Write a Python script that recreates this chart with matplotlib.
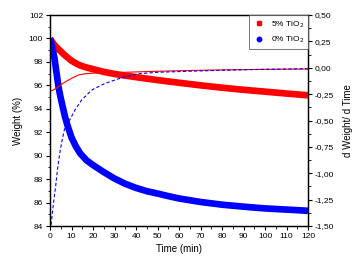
import matplotlib
matplotlib.use("Agg")
import matplotlib.pyplot as plt
from matplotlib.lines import Line2D
from matplotlib.ticker import MultipleLocator, FuncFormatter

plt.rcParams['font.family'] = ['Liberation Sans', 'DejaVu Sans']

# weight curves (left axis, %)
t_w = [0, 0.5, 1, 1.5, 2, 3, 4, 5, 6, 7, 8, 10, 12, 14, 17, 20, 25, 30, 35, 40, 45,
       50, 55, 60, 70, 80, 90, 100, 110, 120]
w_5 = [100.0, 99.85, 99.7, 99.57, 99.45, 99.25, 99.07, 98.9, 98.72, 98.55, 98.4, 98.1,
       97.88, 97.7, 97.52, 97.38, 97.15, 96.97, 96.83, 96.7, 96.57, 96.45, 96.33, 96.22,
       96.0, 95.8, 95.62, 95.46, 95.3, 95.15]
w_0 = [100.0, 99.65, 99.25, 98.85, 98.4, 97.1, 95.8, 94.9, 94.1, 93.3, 92.65, 91.55,
       90.8, 90.2, 89.6, 89.2, 88.6, 88.05, 87.6, 87.25, 86.97, 86.77, 86.55, 86.35,
       86.05, 85.82, 85.65, 85.5, 85.4, 85.3]

# derivative curves (right axis)
t_d5 = [0, 2, 3.9, 6, 8.5, 11, 13.2, 16, 19.4, 24, 28.7, 35, 45, 60.5, 80, 100, 120]
d_5 = [-0.227, -0.205, -0.18, -0.148, -0.117, -0.09, -0.069, -0.058, -0.052, -0.049,
       -0.047, -0.043, -0.036, -0.028, -0.02, -0.015, -0.012]
t_d0 = [0.5, 1.5, 2.6, 3.5, 4.5, 5.6, 6.7, 8, 9.3, 11.6, 14.7, 19.4, 25.6, 34.9, 41.9,
        50, 65, 80, 94.5, 120]
d_0 = [-1.489, -1.3, -1.127, -0.96, -0.811, -0.69, -0.585, -0.53, -0.49, -0.4, -0.306,
       -0.211, -0.148, -0.084, -0.055, -0.043, -0.033, -0.024, -0.017, -0.009]

fig = plt.figure(figsize=(3.58, 2.57), dpi=100)
ax = fig.add_axes([0.1397, 0.1206, 0.7207, 0.821])
ax2 = ax.twinx()

ax.plot(t_w, w_5, color='#ff0000', lw=4.8, solid_capstyle='butt', zorder=3)
ax.plot(t_w, w_0, color='#0000ff', lw=4.8, solid_capstyle='butt', zorder=3)
ax2.plot(t_d5, d_5, color='#ff0000', lw=0.8)
ax2.plot(t_d0, d_0, color='#0000ff', lw=0.8, ls=(0, (3, 2)))

ax.set_xlim(0, 120)
ax.set_ylim(84, 102)
ax2.set_ylim(-1.5, 0.5)

ax.xaxis.set_major_locator(MultipleLocator(10))
ax.xaxis.set_minor_locator(MultipleLocator(5))
ax.yaxis.set_major_locator(MultipleLocator(2))
ax.yaxis.set_minor_locator(MultipleLocator(1))
ax2.yaxis.set_major_locator(MultipleLocator(0.25))
ax2.yaxis.set_minor_locator(MultipleLocator(0.125))
ax2.yaxis.set_major_formatter(FuncFormatter(lambda v, p: f"{v:.2f}".replace('.', ',')))

for a in (ax, ax2):
    a.tick_params(which='major', length=3, width=0.8, labelsize=6, pad=2)
    a.tick_params(which='minor', length=1.8, width=0.6)
    for s in a.spines.values():
        s.set_linewidth(0.9)
ax.tick_params(top=False, which='both')

ax.set_xlabel('Time (min)', fontsize=7, labelpad=3)
ax.set_ylabel('Weight (%)', fontsize=7, labelpad=4)
ax2.set_ylabel('d Weight/ d Time', fontsize=7, labelpad=6)

handles = [Line2D([], [], ls='none', marker='s', color='#ff0000', ms=3.2),
           Line2D([], [], ls='none', marker='o', color='#0000ff', ms=3.2)]
leg = ax2.legend(handles, ['5% TiO$_2$', '0% TiO$_2$'], loc='upper right',
                 fontsize=6, frameon=True, fancybox=False, edgecolor='#555555',
                 borderaxespad=0, handletextpad=0.6, borderpad=0.5, labelspacing=0.6,
                 handlelength=1.5)
leg.get_frame().set_linewidth(0.7)

fig.savefig('out.png', dpi=100)
